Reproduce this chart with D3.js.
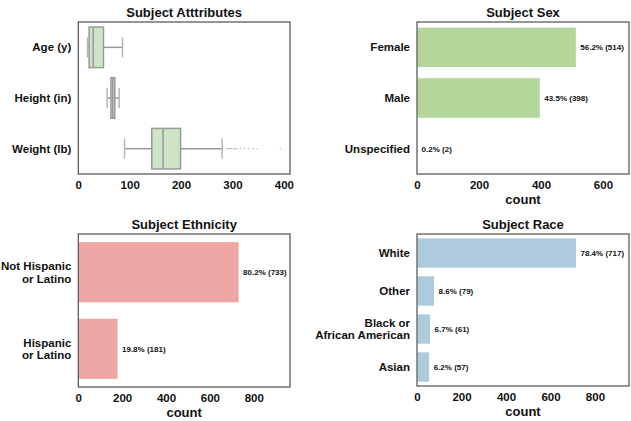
<!DOCTYPE html>
<html><head><meta charset="utf-8">
<script src="https://cdn.jsdelivr.net/npm/d3@7"></script>
<style>
body{margin:0;background:#fff}
text{font-family:"Liberation Sans",Arial,sans-serif;font-weight:bold;fill:#111}
</style>
</head><body>
<svg id="c" width="631" height="421"></svg>
<script>
// ---- data ----
const attrLabels = ["Age (y)", "Height (in)", "Weight (lb)"];
const attrWhiskerLow = [18, 56, 90];
const attrQ1 = [21, 63.5, 143];
const attrMedian = [29, 67, 165];
const attrQ3 = [49, 71, 199];
const attrWhiskerHigh = [86, 79.5, 280];
const weightOutliers = [289, 292, 295, 298, 302, 305, 308, 315, 323, 331, 340, 348, 393];
const attrTicks = [0, 100, 200, 300, 400];
const attrMax = 412;

const sexCats = [["Female"], ["Male"], ["Unspecified"]];
const sexCounts = [514, 398, 2];
const sexPct = ["56.2%", "43.5%", "0.2%"];
const sexTicks = [0, 200, 400, 600];
const sexMax = 684;

const ethCats = [["Not Hispanic", "or Latino"], ["Hispanic", "or Latino"]];
const ethCounts = [733, 181];
const ethPct = ["80.2%", "19.8%"];
const ethTicks = [0, 200, 400, 600, 800];
const ethMax = 965;

const raceCats = [["White"], ["Other"], ["Black or", "African American"], ["Asian"]];
const raceCounts = [717, 79, 61, 57];
const racePct = ["78.4%", "8.6%", "6.7%", "6.2%"];
const raceTicks = [0, 200, 400, 600, 800];
const raceMax = 953;

// ---- drawing ----
const svg = d3.select("#c");

function panel(box, title, xlabel, domainMax, ticks, cats) {
  const g = svg.append("g");
  const x = d3.scaleLinear().domain([0, domainMax]).range([box.x0, box.x1]);
  const y = d3.scaleBand().domain(d3.range(cats.length)).range([box.y0, box.y1])
    .paddingInner(0.2).paddingOuter(0.1);
  const ax = g.append("g").attr("transform", `translate(0,${box.y1})`)
    .call(d3.axisBottom(x).tickValues(ticks).tickSize(0).tickPadding(7).tickFormat(d3.format("d")));
  ax.select(".domain").remove();
  ax.selectAll("text").style("font-size", "11.5px").style("font-family", '"Liberation Sans",Arial,sans-serif')
    .style("font-weight", "bold").attr("fill", "#111");
  cats.forEach((lines, i) => {
    const cy = y(i) + y.bandwidth() / 2;
    const lh = 12.5;
    const t = g.append("text").attr("text-anchor", "end").style("font-size", "11.5px");
    lines.forEach((ln, k) => {
      t.append("tspan").attr("x", box.x0 - 7)
        .attr("y", cy + (k - (lines.length - 1) / 2) * lh + 4).text(ln);
    });
  });
  g.append("text").attr("x", (box.x0 + box.x1) / 2).attr("y", box.y0 - 5)
    .attr("text-anchor", "middle").style("font-size", "13px").text(title);
  if (xlabel) {
    g.append("text").attr("x", (box.x0 + box.x1) / 2).attr("y", box.y1 + 30)
      .attr("text-anchor", "middle").style("font-size", "13px").text(xlabel);
  }
  return {g, x, y, box};
}

function frame(p) {
  p.g.append("rect").attr("x", p.box.x0).attr("y", p.box.y0)
    .attr("width", p.box.x1 - p.box.x0).attr("height", p.box.y1 - p.box.y0)
    .attr("fill", "none").attr("stroke", "#555").attr("stroke-width", 1.25);
}

function bars(p, counts, pct, color) {
  const {g, x, y} = p;
  g.selectAll(null).data(counts).enter().append("rect")
    .attr("x", x(0)).attr("y", (d, i) => y(i))
    .attr("width", d => x(d) - x(0)).attr("height", y.bandwidth())
    .attr("fill", color).attr("stroke", "#fff").attr("stroke-width", 1);
  g.selectAll(null).data(counts).enter().append("text")
    .attr("x", d => x(d) + 4).attr("y", (d, i) => y(i) + y.bandwidth() / 2 + 3)
    .style("font-size", "8px").attr("fill", "#222")
    .text((d, i) => `${pct[i]} (${d})`);
  frame(p);
}

const p1 = panel({x0: 78.3, x1: 290, y0: 22, y1: 174}, "Subject Atttributes", null, attrMax, attrTicks, attrLabels.map(s => [s]));
{
  const {g, x, y} = p1;
  const bw = y.bandwidth();
  const edge = "#9a9a9a";
  attrLabels.forEach((lab, i) => {
    const cy = y(i) + bw / 2;
    g.append("line").attr("x1", x(attrWhiskerLow[i])).attr("x2", x(attrQ1[i]))
      .attr("y1", cy).attr("y2", cy).attr("stroke", edge).attr("stroke-width", 1.5);
    g.append("line").attr("x1", x(attrQ3[i])).attr("x2", x(attrWhiskerHigh[i]))
      .attr("y1", cy).attr("y2", cy).attr("stroke", edge).attr("stroke-width", 1.5);
    [attrWhiskerLow[i], attrWhiskerHigh[i]].forEach(v => {
      g.append("line").attr("x1", x(v)).attr("x2", x(v))
        .attr("y1", cy - bw / 4).attr("y2", cy + bw / 4)
        .attr("stroke", "#b5b5b5").attr("stroke-width", 1.5);
    });
    g.append("rect").attr("x", x(attrQ1[i])).attr("y", y(i))
      .attr("width", x(attrQ3[i]) - x(attrQ1[i])).attr("height", bw)
      .attr("fill", "#cde5c5").attr("stroke", edge).attr("stroke-width", 1.5);
    g.append("line").attr("x1", x(attrMedian[i])).attr("x2", x(attrMedian[i]))
      .attr("y1", y(i)).attr("y2", y(i) + bw).attr("stroke", edge).attr("stroke-width", 1.5);
  });
  const cyW = y(2) + bw / 2;
  g.selectAll(null).data(weightOutliers).enter().append("circle")
    .attr("cx", d => x(d)).attr("cy", cyW).attr("r", 0.7).attr("fill", "#aaa");
  frame(p1);
}

const p2 = panel({x0: 417, x1: 629, y0: 22, y1: 174}, "Subject Sex", "count", sexMax, sexTicks, sexCats);
bars(p2, sexCounts, sexPct, "#b5d69a");

const p3 = panel({x0: 78.3, x1: 290, y0: 234, y1: 387}, "Subject Ethnicity", "count", ethMax, ethTicks, ethCats);
bars(p3, ethCounts, ethPct, "#efa7a6");

const p4 = panel({x0: 417, x1: 629, y0: 234, y1: 386}, "Subject Race", "count", raceMax, raceTicks, raceCats);
bars(p4, raceCounts, racePct, "#aecbdd");
</script>
</body></html>
